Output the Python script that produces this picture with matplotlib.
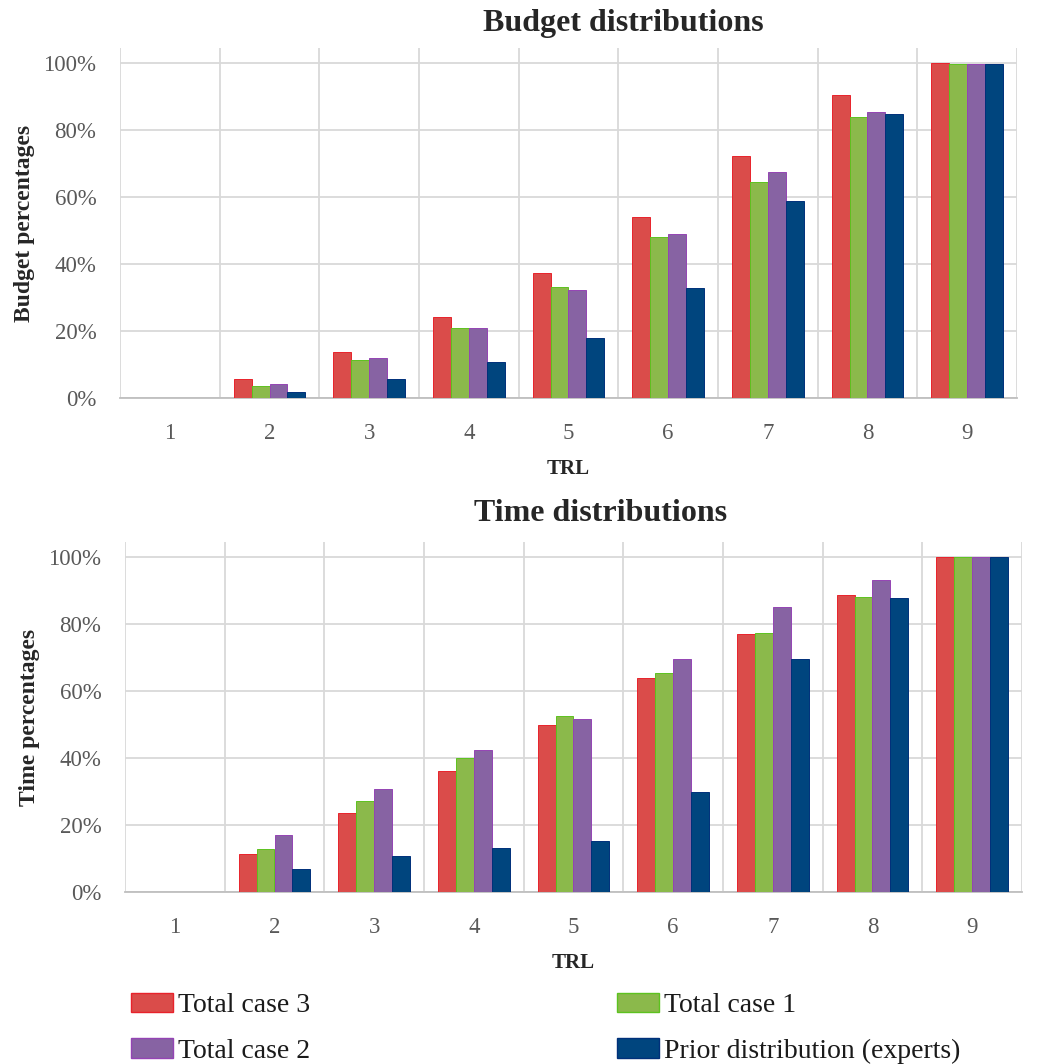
# budget / time distributions per TRL
import matplotlib
import matplotlib.pyplot as plt
from matplotlib.patches import Patch
from matplotlib.ticker import FuncFormatter, MultipleLocator
import numpy as np

matplotlib.rcParams['font.family'] = 'Liberation Serif'

# data (percentages)
trl = [1, 2, 3, 4, 5, 6, 7, 8, 9]
series_names = ['Total case 3', 'Total case 1', 'Total case 2', 'Prior distribution (experts)']

budget_case3 = [0, 5.6, 13.6, 24.1, 37.4, 53.9, 72.4, 90.4, 100.0]
budget_case1 = [0, 3.7, 11.3, 20.8, 33.2, 48.0, 64.6, 84.0, 99.7]
budget_case2 = [0, 4.2, 11.8, 20.8, 32.2, 48.9, 67.4, 85.4, 99.7]
budget_prior = [0, 1.9, 5.7, 10.8, 18.0, 32.7, 58.8, 84.9, 99.7]

time_case3 = [0, 11.3, 23.7, 36.1, 50.0, 63.9, 76.9, 88.7, 100.0]
time_case1 = [0, 12.7, 27.1, 40.1, 52.6, 65.5, 77.4, 88.2, 100.0]
time_case2 = [0, 17.0, 30.8, 42.4, 51.7, 69.7, 85.0, 93.1, 100.0]
time_prior = [0, 6.9, 10.7, 13.2, 15.1, 29.9, 69.7, 87.8, 100.0]

colors = ['#DA4C4A', '#8BB94B', '#8763A3', '#00457E']
edges = ['#E8222B', '#5DC21F', '#9444B4', '#00307A']

fig = plt.figure(figsize=(10.38, 10.64), dpi=100)

W, H = 1038, 1064


def draw_panel(ax, data, ylabel):
    x = np.array(trl)
    w = 0.18
    for i, vals in enumerate(data):
        ax.bar(x + (i - 1.5) * w, vals, width=w,
               color=colors[i], edgecolor=edges[i], linewidth=0.7, zorder=3)

    ax.set_xlim(0.5, 9.5)
    ax.set_ylim(0, 104.5)
    ax.set_xticks(trl)
    ax.xaxis.set_minor_locator(MultipleLocator(1, offset=0.5))
    ax.set_yticks([0, 20, 40, 60, 80, 100])
    ax.yaxis.set_major_formatter(FuncFormatter(lambda v, p: f'{v:.0f}%'))

    ax.grid(axis='y', which='major', color='#D9D9D9', linewidth=1.3, zorder=0)
    ax.grid(axis='x', which='minor', color='#D9D9D9', linewidth=1.3, zorder=0)
    ax.set_axisbelow(True)

    for s in ['top', 'right', 'left']:
        ax.spines[s].set_visible(False)
    ax.spines['bottom'].set_color('#BFBFBF')
    ax.spines['bottom'].set_linewidth(1.3)

    ax.tick_params(axis='both', which='both', length=0, labelsize=16.5,
                   labelcolor='#595959')
    ax.tick_params(axis='x', pad=18)
    ax.tick_params(axis='y', pad=17)

    ax.set_xlabel('TRL', fontsize=15, fontweight='bold', labelpad=11,
                  color='#262626')
    ax.set_ylabel(ylabel, fontsize=17, fontweight='bold', labelpad=6,
                  color='#262626')


# top panel
ax1 = fig.add_axes([120 / W, 1 - 398 / H, 897 / W, 350 / H])
draw_panel(ax1, [budget_case3, budget_case1, budget_case2, budget_prior],
           'Budget percentages')
fig.text(623 / W, 1 - 24 / H, 'Budget distributions', ha='center', va='center',
         fontsize=23, fontweight='bold', color='#262626')

# bottom panel
ax2 = fig.add_axes([125 / W, 1 - 892 / H, 897 / W, 350 / H])
draw_panel(ax2, [time_case3, time_case1, time_case2, time_prior],
           'Time percentages')
fig.text(601 / W, 1 - 514 / H, 'Time distributions', ha='center', va='center',
         fontsize=23, fontweight='bold', color='#262626')

# legend
handles = [Patch(facecolor=colors[i], edgecolor=edges[i], linewidth=1.0) for i in range(4)]
order = [0, 2, 1, 3]
fig.legend([handles[i] for i in order], [series_names[i] for i in order],
           ncol=2, loc='upper left', bbox_to_anchor=(117 / W, 1 - 979 / H),
           frameon=False, prop={'size': 20}, labelcolor='#1A1A1A',
           handlelength=1.5, handleheight=0.7, handletextpad=0.2,
           columnspacing=11.05, labelspacing=0.72, borderpad=0.0)

plt.savefig('out.png', dpi=100)
